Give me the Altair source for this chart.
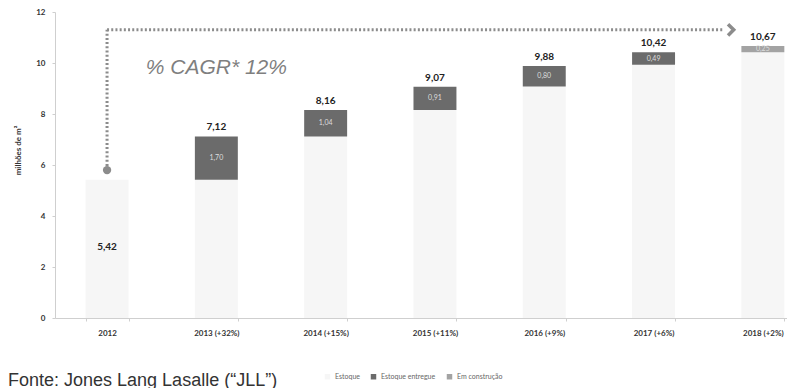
import altair as alt
import pandas as pd

# ---- data ----
years = ["2012", "2013 (+32%)", "2014 (+15%)", "2015 (+11%)", "2016 (+9%)", "2017 (+6%)", "2018 (+2%)"]
totals = [5.42, 7.12, 8.16, 9.07, 9.88, 10.42, 10.67]
entregue = [0.0, 1.70, 1.04, 0.91, 0.80, 0.49, 0.0]
construcao = [0.0, 0.0, 0.0, 0.0, 0.0, 0.0, 0.25]
series_names = ["Estoque", "Estoque entregue", "Em construção"]
series_colors = ["#f6f6f6", "#6b6b6b", "#a3a3a3"]
y_ticks = [0, 2, 4, 6, 8, 10, 12]
cagr_text = "% CAGR* 12%"
cagr_value = 9.8
arrow_start = 5.8
arrow_top = 11.3
source_text = "Fonte: Jones Lang Lasalle (“JLL”)"
y_title = "milhões de m²"


def fmt(v):
    return f"{v:.2f}".replace(".", ",")


rows, seg_rows, tot_rows = [], [], []
for c, t, e, k in zip(years, totals, entregue, construcao):
    base = round(t - e - k, 2)
    rows.append(dict(cat=c, serie="Estoque", valor=base, ord=0))
    if e > 0:
        rows.append(dict(cat=c, serie="Estoque entregue", valor=e, ord=1))
        seg_rows.append(dict(cat=c, mid=base + e / 2, label=fmt(e)))
    if k > 0:
        rows.append(dict(cat=c, serie="Em construção", valor=k, ord=2))
        seg_rows.append(dict(cat=c, mid=base + k / 2, label=fmt(k)))
    segmented = (e + k) > 0
    tot_rows.append(dict(cat=c, pos=t if segmented else t * 0.45, label=fmt(t)))

bars_df = pd.DataFrame(rows)
seg_df = pd.DataFrame(seg_rows)
tot_df = pd.DataFrame(tot_rows)
vline_df = pd.DataFrame([dict(cat=years[0], y=arrow_start, y2=arrow_top)])
hline_df = pd.DataFrame([dict(cat=years[0], cat2=years[-1], y=arrow_top)])
dot_df = pd.DataFrame([dict(cat=years[0], y=arrow_start)])
head_df = pd.DataFrame([dict(cat=years[-1], y=arrow_top)])
cagr_df = pd.DataFrame([dict(cat=years[1], y=cagr_value, t=cagr_text)])
src_df = pd.DataFrame([dict(t=source_text)])

FONT = "Lato"
xscale = alt.Scale(domain=years, paddingInner=0.607, paddingOuter=0.152, align=0.92)
yscale = alt.Scale(domain=[0, 12], nice=False)

X = alt.X("cat:N", sort=years, scale=xscale,
          axis=alt.Axis(title=None, labelAngle=0, labelFontSize=8, labelFont=FONT,
                        labelFontWeight="bold", labelColor="#333", labelPadding=8,
                        domainColor="#cfcfcf", tickColor="#cfcfcf", tickSize=3,
                        tickBand="extent"))

bars = alt.Chart(bars_df).mark_bar().encode(
    x=X,
    y=alt.Y("valor:Q", stack="zero", scale=yscale,
            axis=alt.Axis(title=y_title, values=y_ticks, grid=False, labelFontSize=8,
                          labelFont=FONT, labelFontWeight="bold", labelColor="#333",
                          tickSize=3, labelPadding=7, domainColor="#cfcfcf",
                          tickColor="#cfcfcf", titleFont=FONT, titleFontSize=8,
                          titleFontWeight="bold", titleColor="#333", titleX=-37,
                          titleY=138, titleAlign="center", titleBaseline="middle",
                          titleAngle=270)),
    color=alt.Color("serie:N", scale=alt.Scale(domain=series_names, range=series_colors),
                    legend=alt.Legend(title=None, orient="none", direction="horizontal",
                                      legendX=269, legendY=361, symbolType="square",
                                      symbolSize=30, labelFontSize=7, labelFont=FONT,
                                      labelColor="#666", columnPadding=10,
                                      symbolStrokeWidth=0)),
    order=alt.Order("ord:Q"),
)

tot_text = alt.Chart(tot_df).mark_text(
    font=FONT, fontSize=10, fontWeight="bold", color="#222", dy=-9
).encode(x=alt.X("cat:N", sort=years, scale=xscale), y=alt.Y("pos:Q", scale=yscale), text="label:N")

seg_text = alt.Chart(seg_df).mark_text(
    font=FONT, fontSize=7, color="#dedede"
).encode(x=alt.X("cat:N", sort=years, scale=xscale), y=alt.Y("mid:Q", scale=yscale), text="label:N")

dash = dict(color="#8c8c8c", strokeWidth=3, strokeDash=[2, 2.2])
vline = alt.Chart(vline_df).mark_rule(**dash).encode(
    x=alt.X("cat:N", sort=years, scale=xscale), y=alt.Y("y:Q", scale=yscale), y2="y2:Q")
hline = alt.Chart(hline_df).mark_rule(x2Offset=-40, **dash).encode(
    x=alt.X("cat:N", sort=years, scale=xscale), x2="cat2:N", y=alt.Y("y:Q", scale=yscale))
dot = alt.Chart(dot_df).mark_point(filled=True, size=70, color="#8c8c8c", opacity=1).encode(
    x=alt.X("cat:N", sort=years, scale=xscale), y=alt.Y("y:Q", scale=yscale))
head = alt.Chart(head_df).mark_point(
    shape="M -0.5 -1 L 0.5 0 L -0.5 1", filled=False, strokeWidth=3.5, size=130,
    color="#8c8c8c", opacity=1, xOffset=-32
).encode(x=alt.X("cat:N", sort=years, scale=xscale), y=alt.Y("y:Q", scale=yscale))

cagr = alt.Chart(cagr_df).mark_text(
    font="Liberation Sans", fontSize=21, fontStyle="italic", color="#7f7f7f"
).encode(x=alt.X("cat:N", sort=years, scale=xscale), y=alt.Y("y:Q", scale=yscale), text="t:N")

src = alt.Chart(src_df).mark_text(
    font="Liberation Sans", fontSize=18, color="#333", align="left", baseline="alphabetic"
).encode(x=alt.value(-47), y=alt.value(374), text="t:N")

chart = alt.layer(bars, tot_text, seg_text, vline, hline, dot, head, cagr, src).properties(
    width=732, height=306, padding=0
).configure_view(stroke=None)

chart.save("out.html", embed_options={"renderer": "svg", "actions": False})
